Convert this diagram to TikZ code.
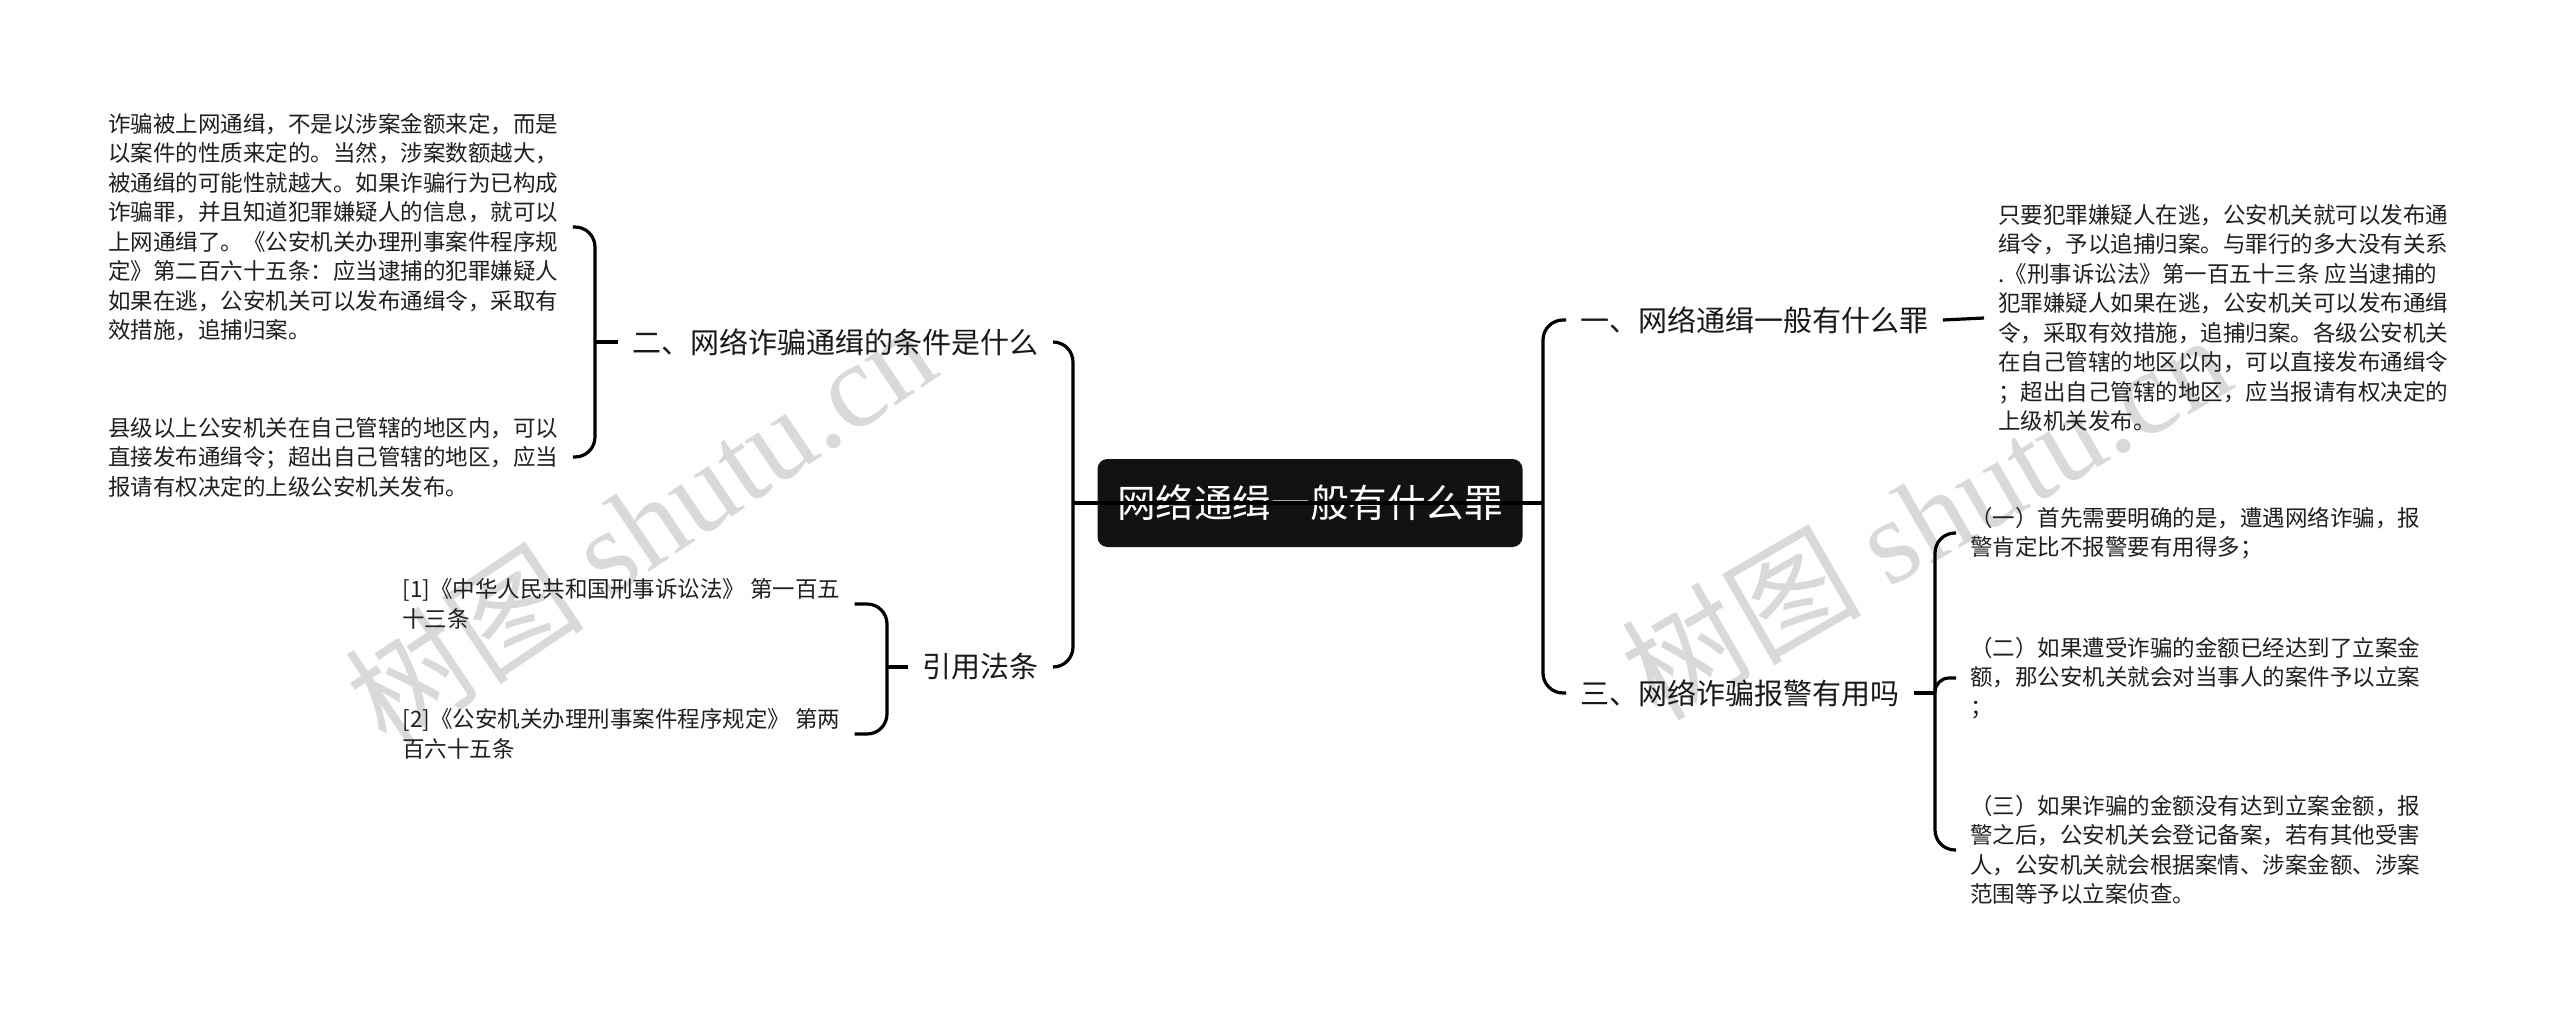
\documentclass[tikz,border=0pt]{standalone}
\usepackage{fontspec}
\setmainfont{Noto Sans CJK SC}
\newfontfamily\wmserif{Liberation Serif}
\begin{document}
\begin{tikzpicture}[x=0.5pt,y=-0.5pt,
  conn/.style={draw=black,line width=1.6pt,rounded corners=10pt},
  leaf/.style={font=\fontsize{11.25pt}{14.75pt}\selectfont,align=left,inner xsep=7pt,inner ysep=2pt,text=black!88},
  branch/.style={font=\fontsize{14.5pt}{17pt}\selectfont,inner xsep=7pt,inner ysep=2pt,text=black!90},
  rootbox/.style={fill=black!93,text=white,rounded corners=5pt,minimum width=212.5pt,minimum height=44pt,inner sep=0pt,font=\fontsize{19.3pt}{22pt}\selectfont},
  wm/.style={text=black!15,font=\fontsize{60pt}{64pt}\selectfont,inner sep=0pt}]
\useasboundingbox[fill=white] (0,0) rectangle (2560,1017);
% watermarks
\node[wm,rotate=34] (wm1) at (640,524) {树图 {\wmserif shutu.cn}};
\node[wm,rotate=30] (wm2) at (1925,515) {树图 {\wmserif shutu.cn}};
% root and branches
\node[rootbox] (root) at (1310,503) {网络通缉一般有什么罪};
\node[branch,anchor=west] (b1) at (1566,320) {一、网络通缉一般有什么罪};
\node[branch,anchor=west] (b3) at (1566,693) {三、网络诈骗报警有用吗};
\node[branch,anchor=east] (b2) at (1053,342) {二、网络诈骗通缉的条件是什么};
\node[branch,anchor=east] (b4) at (1053,667) {引用法条};
% leaves right
\node[leaf,anchor=west] (l1) at (1984,318) {只要犯罪嫌疑人在逃，公安机关就可以发布通\\缉令，予以追捕归案。与罪行的多大没有关系\\.《刑事诉讼法》第一百五十三条 应当逮捕的\\犯罪嫌疑人如果在逃，公安机关可以发布通缉\\令，采取有效措施，追捕归案。各级公安机关\\在自己管辖的地区以内，可以直接发布通缉令\\；超出自己管辖的地区，应当报请有权决定的\\上级机关发布。};
\node[leaf,anchor=west] (l31) at (1956,533) {（一）首先需要明确的是，遭遇网络诈骗，报\\警肯定比不报警要有用得多；};
\node[leaf,anchor=west] (l32) at (1956,678) {（二）如果遭受诈骗的金额已经达到了立案金\\额，那公安机关就会对当事人的案件予以立案\\；};
\node[leaf,anchor=west] (l33) at (1956,850) {（三）如果诈骗的金额没有达到立案金额，报\\警之后，公安机关会登记备案，若有其他受害\\人，公安机关就会根据案情、涉案金额、涉案\\范围等予以立案侦查。};
% leaves left
\node[leaf,anchor=west] (lA) at (94,227) {诈骗被上网通缉，不是以涉案金额来定，而是\\以案件的性质来定的。当然，涉案数额越大，\\被通缉的可能性就越大。如果诈骗行为已构成\\诈骗罪，并且知道犯罪嫌疑人的信息，就可以\\上网通缉了。《公安机关办理刑事案件程序规\\定》第二百六十五条：应当逮捕的犯罪嫌疑人\\如果在逃，公安机关可以发布通缉令，采取有\\效措施，追捕归案。};
\node[leaf,anchor=west] (lB) at (94,457) {县级以上公安机关在自己管辖的地区内，可以\\直接发布通缉令；超出自己管辖的地区，应当\\报请有权决定的上级公安机关发布。};
\node[leaf,anchor=west] (c1) at (388,604) {[1]《中华人民共和国刑事诉讼法》 第一百五\\十三条};
\node[leaf,anchor=west] (c2) at (388,734) {[2]《公安机关办理刑事案件程序规定》 第两\\百六十五条};
% junctions
\coordinate (jL) at (1073,503);
\coordinate (jR) at (1543,503);
\coordinate (j2) at (595,342);
\coordinate (j4) at (887,667);
\coordinate (j3) at (1935,693);
% connectors
\draw[conn] (b2.east) -| (jL) |- (b4.east);
\draw[conn] (b1.west) -| (jR) |- (b3.west);
\draw[conn] (jL) -- (jR);
\draw[conn] (lA.east) -| (j2) |- (lB.east);
\draw[conn] (b2.west) -- (j2);
\draw[conn] (c1.east) -| (j4) |- (c2.east);
\draw[conn] (b4.west) -- (j4);
\draw[conn] (b1.east) -- (l1.west);
\draw[conn] (l31.west) -| (j3) |- (l33.west);
\draw[conn] (b3.east) -- (j3);
\draw[conn,rounded corners=7pt] (j3) |- (l32.west);
\end{tikzpicture}
\end{document}
